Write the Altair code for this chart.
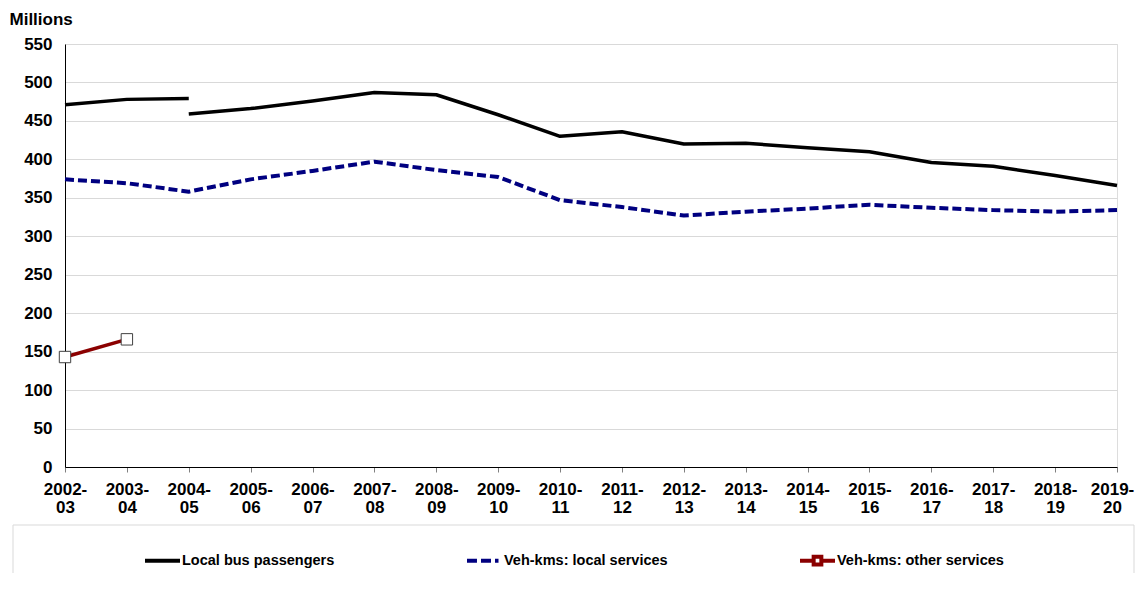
import altair as alt
import pandas as pd

years = ["2002-03", "2003-04", "2004-05", "2005-06", "2006-07", "2007-08",
         "2008-09", "2009-10", "2010-11", "2011-12", "2012-13", "2013-14",
         "2014-15", "2015-16", "2016-17", "2017-18", "2018-19", "2019-20"]
# Local bus passengers: old basis 2002-03..2004-05, new basis 2004-05..2019-20
passengers_old = [471, 478, 479]
passengers_new = [459, 466, 476, 487, 484, 458, 430, 436, 420, 421, 415, 410,
                  396, 391, 379, 366]
vehkm_local = [374, 369, 358, 374, 385, 397, 386, 377, 347, 338, 327, 332,
               336, 341, 337, 334, 332, 334]
vehkm_other = [143, 166]
series_names = ["Local bus passengers", "Veh-kms: local services",
                "Veh-kms: other services"]
y_ticks = list(range(0, 551, 50))

rows = []
for i, v in enumerate(passengers_old):
    rows.append(dict(year=years[i], value=v, series=series_names[0], seg="a"))
for i, v in enumerate(passengers_new):
    rows.append(dict(year=years[i + 2], value=v, series=series_names[0], seg="b"))
for i, v in enumerate(vehkm_local):
    rows.append(dict(year=years[i], value=v, series=series_names[1], seg="a"))
for i, v in enumerate(vehkm_other):
    rows.append(dict(year=years[i], value=v, series=series_names[2], seg="a"))
df = pd.DataFrame(rows)

FONT = "Liberation Sans"

x_enc = alt.X(
    "year:O",
    sort=years,
    scale=alt.Scale(type="point", domain=years, padding=0),
    axis=alt.Axis(
        title=None, labelAngle=0, grid=False,
        labelExpr="[slice(datum.label, 0, 5), slice(datum.label, 5)]",
        labelLineHeight=18, labelFontSize=17, labelFontWeight="bold",
        labelColor="black", labelFont=FONT, labelPadding=9, labelOverlap=False,
        labelOffset=alt.condition("datum.value == '2019-20'", alt.value(-5), alt.value(0)),
        tickSize=5, tickColor="#808080", domainColor="black", domainWidth=1,
    ),
)
y_enc = alt.Y(
    "value:Q",
    scale=alt.Scale(domain=[0, 550], nice=False, zero=True),
    axis=alt.Axis(
        values=y_ticks, title="Millions", titleAngle=0, titleAlign="left",
        titleBaseline="alphabetic", titleX=-56, titleY=-20, titleFontSize=17,
        titleFontWeight="bold", titleFont=FONT, titleColor="black",
        ticks=False, labelPadding=13, labelFontSize=17, labelFontWeight="bold",
        labelColor="black", labelFont=FONT, gridColor="#d9d9d9", gridWidth=1,
        domainColor="black", domainWidth=1,
    ),
)

base = alt.Chart(df)

black_line = base.transform_filter(alt.datum.series == series_names[0]).mark_line(
    color="black", strokeWidth=3.5, strokeJoin="round"
).encode(x=x_enc, y=y_enc, detail="seg:N")

blue_line = base.transform_filter(alt.datum.series == series_names[1]).mark_line(
    color="#000080", strokeWidth=4, strokeDash=[9, 4], strokeJoin="round"
).encode(x=x_enc, y=y_enc)

red_line = base.transform_filter(alt.datum.series == series_names[2]).mark_line(
    color="#8B0000", strokeWidth=3.5, strokeJoin="round"
).encode(x=x_enc, y=y_enc)

red_pts = base.transform_filter(alt.datum.series == series_names[2]).mark_point(
    shape="square", filled=True, fill="white", stroke="#404040",
    strokeWidth=1, size=130, opacity=1
).encode(x=x_enc, y=y_enc)

# legend symbol shapes (unit coordinates); zero-length segments keep equal bounds
pad = "M-1,-0.3L-1,-0.3M-1,0.3L-1,0.3"
legend_paths = [
    pad + "M-1,0H1",
    pad + "M-1,0H-0.43M-0.2,0H0.37M0.6,0H0.8",
    pad + "M-1,0H-0.22M0.22,0H1M-0.22,-0.22H0.22V0.22H-0.22Z",
]
legend_colors = ["black", "#000080", "#8B0000"]

leg = alt.Legend(
    orient="none", legendX=78, legendY=497, direction="horizontal",
    columns=3, columnPadding=124, title=None, labelFontSize=14.5,
    labelFontWeight="bold", labelColor="black", labelFont=FONT,
    labelOffset=0, symbolSize=1225, symbolStrokeWidth=4, padding=0,
    labelLimit=400,
)

legend_layer = base.transform_filter("false").mark_point(
    filled=False, opacity=1
).encode(
    x=x_enc, y=y_enc,
    color=alt.Color("series:N", scale=alt.Scale(domain=series_names, range=legend_colors), legend=leg),
    shape=alt.Shape("series:N", scale=alt.Scale(domain=series_names, range=legend_paths), legend=leg),
)

box = alt.Chart(alt.Data(values=[{"k": 1}])).mark_rect(
    fill="transparent", stroke="#d9d9d9", strokeWidth=1
).encode(
    x=alt.value(-52), x2=alt.value(1069), y=alt.value(481), y2=alt.value(700)
)

chart = alt.layer(
    box, black_line, blue_line, red_line, red_pts, legend_layer
).properties(
    width=1052, height=423,
    autosize=alt.AutoSizeParams(type="none"),
    padding={"left": 57, "top": 36, "right": 18, "bottom": 106},
).configure_view(
    stroke="black", strokeWidth=1
).configure(font=FONT)

chart.save("out.html", embed_options={"renderer": "svg", "actions": False})
